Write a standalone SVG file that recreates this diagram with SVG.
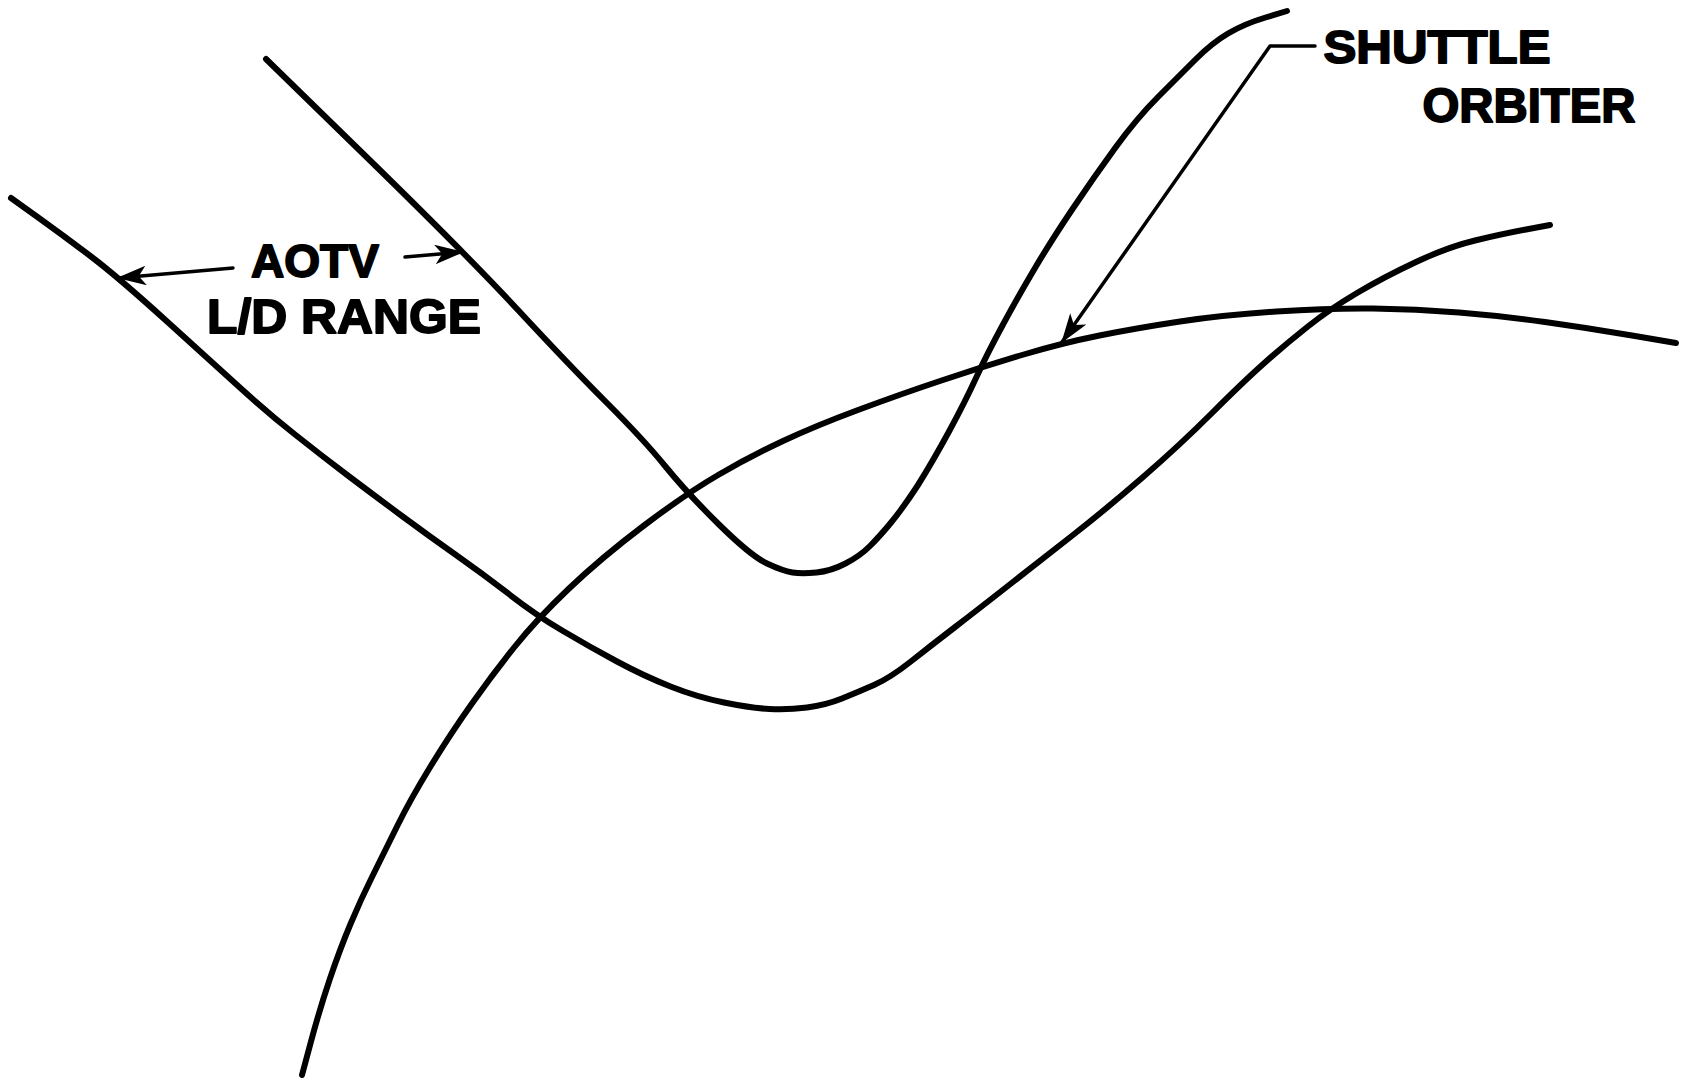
<svg xmlns="http://www.w3.org/2000/svg" width="1682" height="1081" viewBox="0 0 1682 1081">
<defs>
<style>
.curve{fill:none;stroke:#000;stroke-width:6;stroke-linecap:round;stroke-linejoin:round}
.lead{fill:none;stroke:#000;stroke-width:3.5;stroke-linecap:round;stroke-linejoin:round}
.lbl{font-family:"Liberation Sans",Arial,sans-serif;font-weight:bold;fill:#000;stroke:#000;stroke-width:1.8;stroke-linejoin:round;text-anchor:middle}
</style>
<marker id="ah" viewBox="0 0 12 8" refX="11.5" refY="4" markerWidth="8.5" markerHeight="5.6" markerUnits="strokeWidth" orient="auto">
<path d="M0,0 L12,4 L0,8 L3,4 z" fill="#000"/>
</marker>
</defs>
<rect width="1682" height="1081" fill="#fff"/>
<g id="trajectory-upper">
<path class="curve" d="M266,59 L366.5,157 Q467,255 518,310 Q569,365 606.5,402.5 Q644,440 665.5,466.5 Q687,493 719,524.5 Q751,556 767,563.5 Q783,571 792.5,572.5 Q802,574 816.5,572.5 Q831,571 845.5,563.5 Q860,556 870,546 Q880,536 891.5,522 Q903,508 918,485 Q933,461 949,431.5 Q965,402 976,378 Q987,354 1003,324.5 Q1019,295 1035,268 Q1051,241 1072.5,209 Q1094,177 1115.5,147.5 Q1137,118 1158.5,96.5 Q1180,75 1196,59 Q1212,43 1228,33.5 Q1244,24 1265.5,17.5 L1287,11"/>
</g>
<g id="trajectory-lower">
<path class="curve" d="M11,198 L37.5,217 Q64,236 91,256.5 Q118,277 166.5,321 Q215,365 241.5,389 Q268,413 295,434.5 Q322,456 348.5,476 Q375,496 402,516 Q429,536 456,555 Q483,574 509.5,594.5 Q536,615 563,631 Q590,647 617,661.5 Q644,676 670.5,686.5 Q697,697 724,702.5 Q751,708 769.5,709 Q788,710 807,707.5 Q826,705 842,698.5 Q858,692 874,685 Q890,678 911.5,661 Q933,644 954.5,627.5 Q976,611 1008.5,585.5 Q1041,560 1073,535 Q1105,510 1142.5,477.5 Q1180,445 1212,413 Q1244,381 1265.5,362 Q1287,343 1308.5,326 Q1330,309 1357,293 Q1384,277 1416,262 Q1448,247 1475,240.5 Q1502,234 1526,229.5 L1550,225"/>
</g>
<g id="planet-arc">
<path class="curve" d="M302,1075 L311,1041.5 Q320,1008 330,978.5 Q340,949 350.5,924 Q361,899 372.5,876 Q384,853 397,826.5 Q410,800 430.5,766.5 Q451,733 472,703.5 Q493,674 514.5,647 Q536,620 568.5,589 Q601,558 644,525.5 Q687,493 719,474.5 Q751,456 783,441 Q815,426 858,410 Q901,394 941.5,380.5 Q982,367 1022,355 Q1062,343 1099.5,335.5 Q1137,328 1180,321.5 Q1223,315 1276.5,311.5 Q1330,308 1373,308.5 Q1416,309 1459,312.5 Q1502,316 1545,322 Q1588,328 1632,335.5 L1676,343"/>
</g>
<g id="label-aotv">
<text class="lbl" x="315" y="277" font-size="47" textLength="128" lengthAdjust="spacingAndGlyphs">AOTV</text>
<text class="lbl" x="344" y="333" font-size="49" textLength="274" lengthAdjust="spacingAndGlyphs">L/D RANGE</text>
</g>
<g id="label-shuttle">
<text class="lbl" x="1437" y="63" font-size="46" textLength="227" lengthAdjust="spacingAndGlyphs">SHUTTLE</text>
<text class="lbl" x="1529" y="122" font-size="48" textLength="213" lengthAdjust="spacingAndGlyphs">ORBITER</text>
</g>
<g id="connectors">
<path class="lead" d="M233,268 L118,278" marker-end="url(#ah)"/>
<path class="lead" d="M405,257 L463,252" marker-end="url(#ah)"/>
<path class="lead" d="M1315,46 L1270,46 L1062,342" marker-end="url(#ah)"/>
</g>
</svg>
